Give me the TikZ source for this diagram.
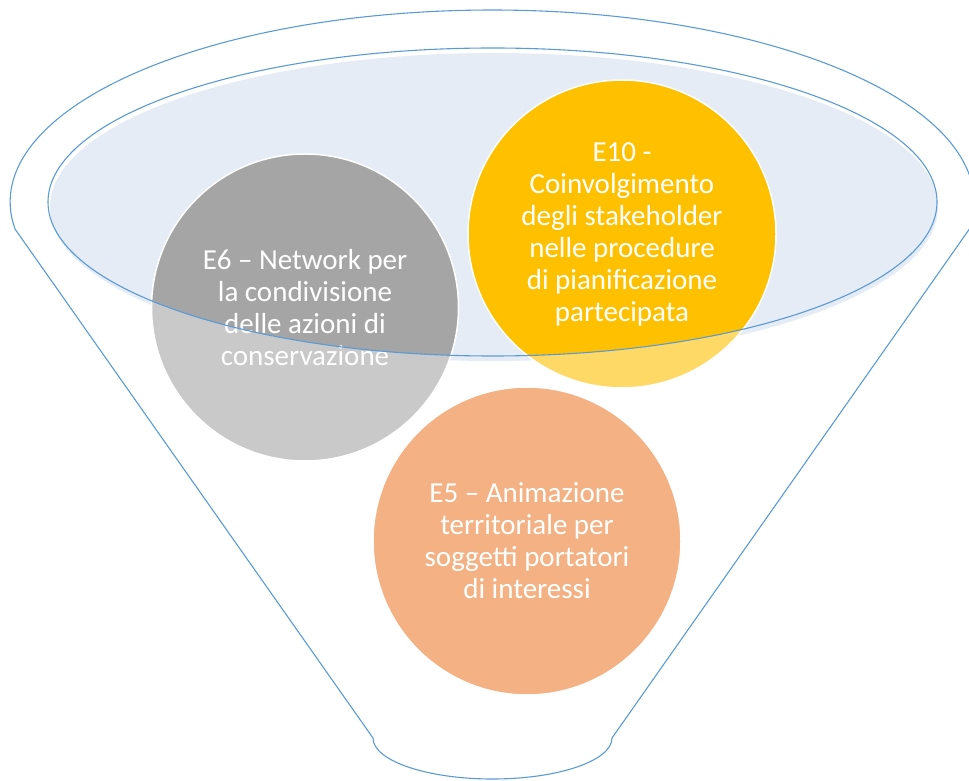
\documentclass[tikz,border=0pt]{standalone}
\usepackage{fontspec}
\setmainfont{Carlito}
\definecolor{funnelblue}{HTML}{5B9BD5}
\definecolor{bowlfill}{HTML}{E5ECF6}
\definecolor{grayD}{HTML}{A5A5A5}
\definecolor{grayL}{HTML}{C9C9C9}
\definecolor{goldD}{HTML}{FFC000}
\definecolor{goldL}{HTML}{FFD966}
\definecolor{orangeL}{HTML}{F4B183}
\tikzset{
  outline/.style={draw=funnelblue, line width=1.1pt},
  bubble/.style={circle, draw=white, line width=1.5pt, inner sep=0pt,
    minimum size=#1, text=white, align=center,
    font=\fontsize{29}{32}\selectfont},
}
\begin{document}
\begin{tikzpicture}[x=1pt,y=1pt]
\useasboundingbox (0,0) rectangle (969,780);
\coordinate (c6) at (305,472.5);
\coordinate (c10) at (622,546);
\coordinate (c5) at (527,239);
\coordinate (bowl) at (492.5,578);
\coordinate (bowlsh) at (494,573);
\coordinate (lk) at (15,551);
\coordinate (rb) at (612,42);
% funnel body
\draw[outline] (lk) arc[start angle=188.08, end angle=-8.08, x radius=482, y radius=192]
  -- (rb) arc[start angle=0, end angle=-180, x radius=119.5, y radius=41] -- cycle;
% bowl fill
\fill[bowlfill] (bowlsh) ellipse[x radius=444, y radius=154];
% circles, light parts
\fill[grayL] (c6) circle[radius=153.5];
\fill[goldL] (c10) circle[radius=154];
\fill[orangeL] (c5) circle[radius=154];
% darker parts inside the bowl
\begin{scope}
  \clip (bowl) ellipse[x radius=444.5, y radius=154];
  \fill[grayD] (c6) circle[radius=153.5];
  \fill[goldD] (c10) circle[radius=154];
\end{scope}
% circle nodes with text
\node[bubble=307pt] (e6) at (c6) {E6 – Network per\\la condivisione\\delle azioni di\\conservazione};
\node[bubble=308pt] (e10) at (c10) {E10 -\\Coinvolgimento\\degli stakeholder\\nelle procedure\\di pianificazione\\partecipata};
\node[bubble=308pt] (e5) at (c5) {E5 – Animazione\\territoriale per\\soggetti portatori\\di interessi};
% bowl outline on top
\draw[outline] (bowl) ellipse[x radius=444.5, y radius=154];
\end{tikzpicture}
\end{document}
